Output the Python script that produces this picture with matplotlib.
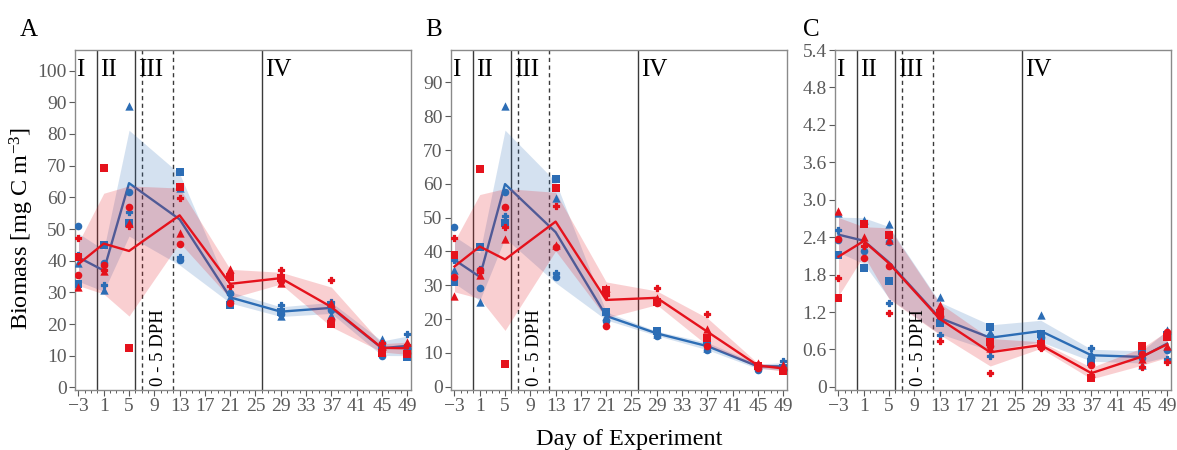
import matplotlib
matplotlib.use("Agg")
import matplotlib.pyplot as plt
from matplotlib.ticker import MultipleLocator
import numpy as np

plt.rcParams['font.family'] = ['Liberation Serif', 'DejaVu Serif']
plt.rcParams['mathtext.fontset'] = 'custom'
plt.rcParams['mathtext.rm'] = 'Liberation Serif'
plt.rcParams['mathtext.it'] = 'Liberation Serif:italic'

days = [-3, 1, 5, 13, 21, 29, 37, 45, 49]
replicate_markers = ['o', 's', '^', 'P']

# Panel A: replicates (circle, square, triangle, plus) per day
a_blue = [
    [50.8, 39.4, 61.6, 40.3, 29.8, 23.2, 24.5, 9.8, 12.5],
    [32.5, 45.0, 52.0, 67.9, 25.9, 23.8, 26.0, 11.5, 9.5],
    [39.2, 30.8, 88.8, 62.9, 28.5, 22.6, 23.0, 15.2, 13.5],
    [41.7, 32.4, 55.5, 41.1, 29.5, 26.1, 27.0, 13.0, 17.0],
]
a_red = [
    [35.5, 38.7, 56.8, 45.3, 26.6, 33.5, 21.3, 12.0, 11.0],
    [41.3, 69.2, 12.5, 63.4, 34.8, 34.5, 20.0, 11.0, 10.5],
    [31.7, 36.6, 52.0, 48.9, 37.3, 32.9, 26.5, 13.0, 14.5],
    [47.3, 37.1, 51.0, 59.7, 32.1, 37.1, 33.8, 14.0, 13.5],
]
# Panel B
b_blue = [
    [47.1, 29.1, 57.7, 32.3, 19.3, 15.0, 10.8, 5.0, 5.0],
    [30.9, 41.2, 48.3, 61.3, 22.0, 16.5, 13.3, 6.0, 5.5],
    [34.5, 25.0, 83.1, 55.7, 20.8, 15.5, 11.5, 6.5, 6.0],
    [37.5, 34.7, 50.6, 33.5, 21.5, 16.0, 12.3, 6.5, 7.5],
]
b_red = [
    [32.3, 34.5, 53.1, 41.2, 17.8, 24.7, 12.0, 5.5, 5.0],
    [39.0, 64.5, 6.7, 58.7, 28.5, 25.1, 14.5, 6.0, 4.5],
    [26.9, 33.0, 43.6, 41.9, 29.3, 26.1, 17.0, 7.0, 6.5],
    [44.0, 33.8, 47.1, 53.5, 27.0, 29.2, 21.5, 6.5, 5.5],
]
# Panel C
c_blue = [
    [2.35, 2.18, 2.32, 1.12, 0.82, 0.80, 0.48, 0.47, 0.59],
    [2.11, 1.90, 1.70, 1.03, 0.96, 0.85, 0.40, 0.58, 0.83],
    [2.78, 2.67, 2.61, 1.44, 0.88, 1.15, 0.52, 0.35, 0.91],
    [2.52, 2.62, 1.35, 0.83, 0.49, 0.78, 0.63, 0.52, 0.45],
]
c_red = [
    [2.37, 2.07, 1.94, 1.13, 0.65, 0.64, 0.35, 0.52, 0.88],
    [1.42, 2.61, 2.44, 1.19, 0.72, 0.68, 0.14, 0.65, 0.80],
    [2.82, 2.41, 2.35, 1.31, 0.62, 0.74, 0.22, 0.45, 0.65],
    [1.74, 2.26, 1.19, 0.73, 0.23, 0.62, 0.17, 0.32, 0.40],
]

panel_letters = ['A', 'B', 'C']
phase_labels = ['I', 'II', 'III', 'IV']
phase_label_x = [-3.3, 0.4, 6.5, 26.5]
solid_lines = [0, 6, 26]
dashed_lines = [7, 12]
dph_label = '0 - 5 DPH'
xticks = list(range(-3, 50, 4))
a_yticks = list(range(0, 101, 10))
b_yticks = list(range(0, 91, 10))
c_yticks = [0, 0.6, 1.2, 1.8, 2.4, 3.0, 3.6, 4.2, 4.8, 5.4]

BLUE = '#2c6db5'
RED = '#e5121c'
TICK_COLOR = '#5a5a5a'
SPINE_COLOR = '#8a8a8a'

fig = plt.figure(figsize=(11.77, 4.5), dpi=100)
W, H = 1177, 450
lefts = [75, 451, 835]
letter_x = [20, 425, 803]
axw = 336
top_px, bot_px = 50, 390

panels = [
    (a_blue, a_red, (-0.8, 106.5), a_yticks),
    (b_blue, b_red, (-1.0, 99.6), b_yticks),
    (c_blue, c_red, (-0.05, 5.4), c_yticks),
]

axes = []
for i, (blue, red, ylim, yticks) in enumerate(panels):
    ax = fig.add_axes([lefts[i] / W, 1 - bot_px / H, axw / W, (bot_px - top_px) / H])
    axes.append(ax)
    for xv in solid_lines:
        ax.axvline(xv, color='#3a3a3a', lw=1.0, zorder=0.5)
    for xv in dashed_lines:
        ax.axvline(xv, color='#3a3a3a', lw=1.0, ls=(0, (3, 2.5)), zorder=0.5)

    for k, (data, col) in enumerate(((blue, BLUE), (red, RED))):
        arr = np.array(data)
        mean = arr.mean(axis=0)
        sd = arr.std(axis=0, ddof=1)
        ax.fill_between(days, mean - sd, mean + sd, color=col, alpha=0.2, lw=0,
                        zorder=1 + 2 * k)
        ax.plot(days, mean, color=col, lw=1.7, zorder=2 + 2 * k)
    for data, col in ((blue, BLUE), (red, RED)):
        for rep, mk in zip(data, replicate_markers):
            if mk == 'P':
                ax.scatter(days, rep, marker=mk, s=22, color=col, edgecolors=col,
                           linewidths=0.9, zorder=3.5)
            else:
                size = 36 if mk == '^' else 30
                ax.scatter(days, rep, marker=mk, s=size, color=col, linewidths=0,
                           zorder=3.5)

    ax.set_xlim(-3.55, 49.6)
    ax.set_ylim(*ylim)
    ax.set_xticks(xticks)
    ax.xaxis.set_minor_locator(MultipleLocator(1))
    ax.set_yticks(yticks)
    if i == 2:
        ax.set_yticklabels(['0' if v == 0 else f'{v:.1f}' for v in yticks])
    ax.tick_params(axis='both', which='major', labelsize=14, colors=TICK_COLOR,
                   labelcolor=TICK_COLOR, length=4, width=0.8, pad=2)
    ax.tick_params(axis='x', which='minor', length=2, width=0.7, colors=TICK_COLOR)
    for sp in ax.spines.values():
        sp.set_color(SPINE_COLOR)
        sp.set_linewidth(1.0)

    yr = ylim[1] - ylim[0]
    for lab, xv in zip(phase_labels, phase_label_x):
        ax.text(xv, ylim[1] - 0.025 * yr, lab, fontsize=18, va='top', ha='left',
                color='black', zorder=5)
    ax.text(9.6, ylim[0] + 0.012 * yr, dph_label, rotation=90, fontsize=13.5,
            ha='center', va='bottom', color='black', zorder=5)

    fig.text(letter_x[i] / W, 1 - 36 / H, panel_letters[i], fontsize=18,
             ha='left', va='baseline')

fig.text(22 / W, 1 - 229 / H, r'Biomass [mg C m$^{\mathrm{-3}}$]', fontsize=17.5,
         rotation=90, ha='center', va='center')
fig.text(629 / W, 1 - 445 / H, 'Day of Experiment', fontsize=17.5, ha='center',
         va='baseline')

fig.savefig('out.png', dpi=100)
